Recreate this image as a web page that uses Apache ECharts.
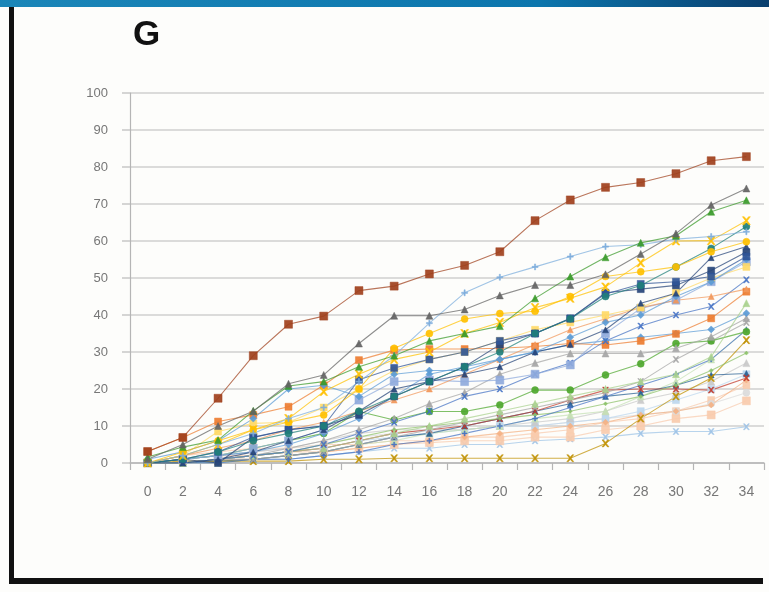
<!DOCTYPE html>
<html>
<head>
<meta charset="utf-8">
<script src="https://cdn.jsdelivr.net/npm/echarts@6/dist/echarts.min.js"></script>
<style>
  html, body { margin: 0; padding: 0; background: #fdfdfb; }
  #chart { width: 769px; height: 592px; }
</style>
</head>
<body>
<div id="chart"></div>
<script>
// Sampling days along the x axis
const days = ['0','2','4','6','8','10','12','14','16','18','20','22','24','26','28','30','32','34'];

// One array per specimen line (cumulative percentage at each day)
const s01 = [3.1, 6.9, 17.5, 29, 37.5, 39.7, 46.6, 47.8, 51.1, 53.4, 57.1, 65.5, 71.1, 74.5, 75.8, 78.2, 81.7, 82.8];
const s02 = [1, 5, 10, 14, 21.4, 23.8, 32.3, 39.8, 39.8, 41.5, 45.3, 48.1, 48.1, 51, 56.5, 62, 69.7, 74.2];
const s03 = [0, 2, 5, 8, 12, 15, 22, 29, 37.8, 46, 50.2, 53, 55.8, 58.5, 59, 60.5, 61.2, 62.5];
const s04 = [1.6, 4.3, 6.2, 14.1, 20.8, 22, 26, 29, 33, 35, 37, 44.5, 50.4, 55.6, 59.5, 61.4, 67.9, 71];
const s05 = [0, 2, 5, 9, 12, 19.3, 24, 28, 30, 35, 38, 42, 44.5, 47.6, 54.1, 60, 60.1, 65.5];
const s06 = [0, 3, 6, 9, 11, 13, 20, 31, 35, 38.9, 40.4, 41, 45, 50.4, 51.7, 53, 57.1, 59.8];
const s07 = [0, 1, 3, 6, 8, 10, 14, 18, 22, 26, 30, 35, 39, 45, 48, 53, 58, 63.9];
const s08 = [0, 0, 1, 3, 6, 9, 14, 20, 22, 24, 26, 30, 32, 36, 43.2, 45.9, 55.5, 58.5];
const s09 = [0, 1, 3, 7, 9, 10, 22.5, 25.7, 28, 30, 33, 35, 39.1, 45.7, 48.4, 49, 50.4, 55.8];
const s10 = [0, 1, 2, 4, 6, 9, 17, 22, 22.4, 22, 22.4, 24, 26.5, 35, 41.8, 44, 49, 54.4];
const s11 = [0, 0, 1, 2, 3, 5, 8, 11, 14, 18, 20, 24, 27, 33, 37, 40, 42.3, 49.5];
const s12 = [3.1, 6.9, 11.2, 13, 15.2, 21, 27.8, 30.5, 30.8, 30.8, 31, 31.5, 32.3, 31.9, 33, 34.9, 39.1, 46.3];
const s13 = [0, 0, 1, 2, 3, 4, 6, 8, 10, 12, 14, 16, 18, 20, 22, 24, 28.7, 43.2];
const s14 = [0, 1, 2, 3, 5, 8, 12, 18, 24, 26, 28, 30, 32, 33, 34, 35, 36.1, 40.5];
const s15 = [0, 0, 1, 2, 4, 6, 9, 12, 16, 19, 24, 27, 29.6, 29.6, 29.6, 31, 34.1, 39.1];
const s16 = [0, 1, 2, 4, 6, 8, 13.9, 11.6, 13.9, 13.9, 15.7, 19.7, 19.7, 23.8, 26.8, 32.3, 33, 35.5];
const s17 = [0, 0.5, 0.5, 0.5, 0.5, 1, 1, 1.3, 1.3, 1.3, 1.3, 1.3, 1.3, 5.3, 12, 18, 23, 33.2];
const s18 = [0, 0, 1, 2, 3, 5, 7, 9, 10, 11, 12, 13, 14, 16, 18, 21, 25, 29.7];
const s19 = [0, 0, 0.5, 1, 2, 3, 5, 7, 8, 10, 12, 14, 16, 18, 19, 21, 23.8, 24.2];
const s20 = [0, 0, 1, 2, 3, 4, 6, 8, 9, 10, 12, 14, 17, 19.7, 20, 20, 19.7, 23];
const s21 = [0, 0, 1, 1, 2, 3, 4, 5, 6, 7, 8, 9, 10, 11, 13, 14, 15.7, 22.4];
const s22 = [0, 1, 2, 2, 3, 3, 4, 5, 5.5, 6, 6, 7, 7, 9, 10, 12, 13, 16.8];
const s23 = [0, 0, 0, 1, 1, 2, 3, 4, 4, 5, 5, 6, 6.5, 7, 8, 8.5, 8.5, 9.8];
const s24 = [0, 1, 2, 3, 4, 6, 8, 9, 9, 9, 10, 11, 12, 14, 17, 19, 22, 27];
const s25 = [0, 2, 4, 6, 9, 11, 14, 17, 20, 24, 28, 32, 36, 39, 42, 44, 45, 47];
const s26 = [1, 3, 6, 12, 20, 21, 18, 24, 25, 25, 28, 30, 34, 38, 40, 45, 49, 55];
const s27 = [0, 2, 8.5, 10.7, 11, 15, 20, 25, 28, 30, 33, 36, 38, 40, 42, 46, 50, 53];
const s28 = [0, 1, 0, 6.9, 9, 10, 13, 18, 22, 26, 32, 35, 39, 46, 47, 48, 52, 57];
const s29 = [0, 1, 2, 3, 4, 5, 7, 8, 9, 9, 10, 10, 11, 12, 13, 14, 16, 19];
const s30 = [0, 2, 3, 4, 4, 5, 5, 6, 6, 7, 7, 8, 9, 11, 12, 14, 17, 21];
const s31 = [0, 0, 1, 2, 3, 4, 6, 7, 8, 9, 10, 10, 11, 12, 14, 17, 20, 24];
const s32 = [0, 0, 0, 1, 2, 3, 5, 6, 8, 9, 10, 12, 13, 14, 18, 22, 28, 36];
const s33 = [0, 0, 0, 1, 1, 2, 3, 5, 6, 8, 10, 12, 15, 18, 21, 24, 28, 36];
const s34 = [0, 0, 1, 1, 2, 3, 5, 7, 9, 11, 13, 15, 17, 19, 22, 28, 33, 38];

// Y-axis tick values
const yTicks = [0, 10, 20, 30, 40, 50, 60, 70, 80, 90, 100];

// Marker shapes
const X_MARK = 'path://M0,0 L2.2,0 L5,3.2 L7.8,0 L10,0 L6.2,5 L10,10 L7.8,10 L5,6.8 L2.2,10 L0,10 L3.8,5 Z';
const PLUS_MARK = 'path://M4,0 H6 V4 H10 V6 H6 V10 H4 V6 H0 V4 H4 Z';

// [data, colour, marker, marker size] — drawn bottom to top
const lines = [
  [s23, '#9dc3e6', X_MARK, 6],
  [s22, '#f8cbad', 'rect', 8],
  [s30, '#f8cbad', 'rect', 7],
  [s29, '#dbdbdb', 'circle', 7],
  [s31, '#bdd7ee', 'rect', 7],
  [s21, '#f4b183', 'diamond', 6],
  [s24, '#c9c9c9', 'triangle', 7],
  [s32, '#c5e0b4', 'triangle', 7],
  [s19, '#255e91', 'triangle', 6],
  [s20, '#c0392b', X_MARK, 6],
  [s17, '#bf9000', X_MARK, 7],
  [s18, '#8cc168', 'diamond', 4],
  [s33, '#4472c4', PLUS_MARK, 5],
  [s34, '#a5a5a5', X_MARK, 6],
  [s16, '#4ea72e', 'circle', 7],
  [s15, '#a5a5a5', 'triangle', 7],
  [s14, '#5b9bd5', 'diamond', 7],
  [s13, '#a9d18e', 'triangle', 7],
  [s12, '#ed7d31', 'rect', 7],
  [s11, '#4472c4', X_MARK, 6],
  [s10, '#8faadc', 'rect', 8],
  [s25, '#f1975a', 'triangle', 6],
  [s27, '#ffd966', 'rect', 7],
  [s26, '#5b9bd5', 'diamond', 7],
  [s28, '#264478', 'rect', 7],
  [s09, '#2f5597', 'rect', 7],
  [s08, '#264478', 'triangle', 6],
  [s07, '#1f7f7a', 'circle', 7],
  [s06, '#ffc000', 'circle', 7],
  [s05, '#ffc000', X_MARK, 8],
  [s03, '#7caddd', PLUS_MARK, 6],
  [s04, '#3a9a2a', 'triangle', 7],
  [s02, '#636363', 'triangle', 7],
  [s01, '#a0401c', 'rect', 8]
];

const FONT = '"Liberation Sans Narrow", "Liberation Sans", sans-serif';

const chart = echarts.init(document.getElementById('chart'), null, { renderer: 'canvas' });

chart.setOption({
  backgroundColor: '#fdfdfb',
  animation: false,
  title: {
    text: 'G',
    left: 128,
    top: 13,
    textStyle: { fontFamily: '"Liberation Sans", sans-serif', fontSize: 35, fontWeight: 'bold', color: '#111' }
  },
  graphic: [
    {
      type: 'rect',
      shape: { x: 0, y: 0, width: 769, height: 7 },
      style: {
        fill: new echarts.graphic.LinearGradient(0, 0, 1, 0, [
          { offset: 0, color: '#1b86b8' },
          { offset: 0.7, color: '#0c76ad' },
          { offset: 1, color: '#0a3f6e' }
        ])
      },
      silent: true
    },
    { type: 'rect', shape: { x: 9, y: 7, width: 5, height: 577 }, style: { fill: '#111' }, silent: true },
    { type: 'rect', shape: { x: 9, y: 578, width: 754, height: 6 }, style: { fill: '#111' }, silent: true }
  ],
  grid: { left: 130, right: 5, top: 93, bottom: 129, containLabel: false },
  xAxis: {
    type: 'category',
    data: days,
    boundaryGap: true,
    axisLine: { lineStyle: { color: '#b5b5b5', width: 1.5 } },
    axisTick: { show: true, length: 7, lineStyle: { color: '#b5b5b5', width: 1.2 } },
    axisLabel: { color: '#777', fontSize: 14, fontFamily: FONT, margin: 22, interval: 0 },
    splitLine: { show: false }
  },
  yAxis: {
    type: 'value',
    min: yTicks[0],
    max: yTicks[yTicks.length - 1],
    interval: yTicks[1] - yTicks[0],
    axisLine: { show: true, lineStyle: { color: '#b5b5b5', width: 1.2 } },
    axisTick: { show: true, length: 8, lineStyle: { color: '#c8c8c8', width: 1.5 } },
    axisLabel: { color: '#777', fontSize: 13, fontFamily: FONT, margin: 22 },
    splitLine: { lineStyle: { color: '#cfcfcf', width: 1.6 } }
  },
  series: lines.map(([data, color, symbol, size]) => ({
    type: 'line',
    data: data,
    symbol: symbol,
    symbolSize: size,
    showSymbol: true,
    lineStyle: { color: color, width: 1.1, opacity: 0.72 },
    itemStyle: { color: color, borderColor: color, borderWidth: 0.5, opacity: 0.92 },
    emphasis: { disabled: true }
  }))
});
</script>
</body>
</html>
